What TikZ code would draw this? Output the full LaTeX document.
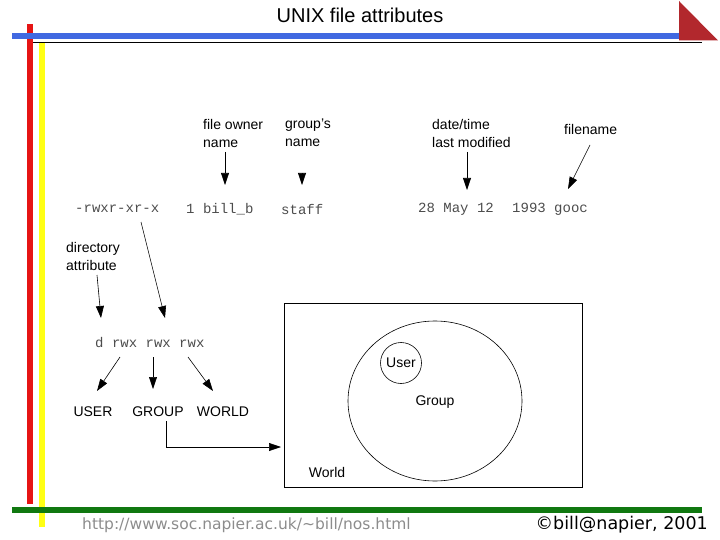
\documentclass[tikz,border=0pt]{standalone}
\usepackage{fontspec}
\setmainfont{Liberation Sans}
\newfontfamily\monof{Liberation Mono}
\newfontfamily\dvs{DejaVu Sans}
\usetikzlibrary{arrows.meta,shapes.geometric}
\definecolor{barred}{RGB}{230,20,20}
\definecolor{baryellow}{RGB}{255,255,20}
\definecolor{barblue}{RGB}{65,105,225}
\definecolor{bargreen}{RGB}{16,120,16}
\definecolor{tri}{RGB}{178,40,45}
\tikzset{
  lbl/.style={inner sep=0pt, font=\fontsize{14}{18}\selectfont, align=left, anchor=west},
  mono/.style={inner sep=0pt, font=\monof\fontsize{14}{16}\selectfont, text=black!70, anchor=west},
  arr/.style={-{Triangle[length=12pt,width=8pt]}, line width=0.6pt},
  plain/.style={line width=0.6pt},
}
\begin{document}
\begin{tikzpicture}[x=1pt,y=-1pt]
\useasboundingbox (0,0) rectangle (720,540);
% decorative bars
\fill[barred] (27,24) rectangle (33,504);
\fill[baryellow] (39,43) rectangle (45,527);
\fill[barblue] (12,32.7) rectangle (702,38.7);
\draw[line width=0.8pt] (33,42.3) -- (702,42.3);
\fill[bargreen] (12,506.7) rectangle (702,512.7);
\fill[tri] (679,1) -- (718,40.5) -- (679,40.5) -- cycle;
% title
\node[inner sep=0pt, font=\fontsize{20}{22}\selectfont] (title) at (360,15) {UNIX file attributes};
% top labels
\node[lbl] (owner) at (203,133) {file owner\\name};
\node[lbl] (grp) at (285,133) {group's\\name};
\node[lbl] (date) at (432,133) {date/time\\last modified};
\node[lbl] (fname) at (564,129) {filename};
% ls line
\node[mono] (perm) at (75,209) {-rwxr-xr-x};
\node[mono] (links) at (186,209) {1 bill\_b};
\node[mono] (staff) at (281,209) {staff};
\node[mono] (dt) at (418,209) {28 May 12};
\node[mono] (yr) at (512,209) {1993 gooc};
% arrows to ls line
\coordinate (o1) at (225,152); \coordinate (o2) at (225,185);
\draw[arr] (o1) -- (o2);
\coordinate (g1) at (302,174); \coordinate (g2) at (302,185);
\draw[arr] (g1) -- (g2);
\coordinate (d1) at (467,152); \coordinate (d2) at (467,190);
\draw[arr] (d1) -- (d2);
\coordinate (f1) at (590,145); \coordinate (f2) at (568,189);
\draw[arr] (f1) -- (f2);
% directory attribute
\node[lbl] (dir) at (66,256) {directory\\attribute};
\coordinate (da1) at (97,275); \coordinate (da2) at (101,318);
\draw[arr] (da1) -- (da2);
\coordinate (p1) at (141,222); \coordinate (p2) at (165,318);
\draw[arr] (p1) -- (p2);
% d rwx rwx rwx
\node[mono] (bits) at (95,343) {d rwx rwx rwx};
\node[lbl, anchor=center] (user) at (93,412) {USER};
\node[lbl, anchor=center] (group) at (158,412) {GROUP};
\node[lbl, anchor=center] (world) at (223,412) {WORLD};
\coordinate (u1) at (120,357); \coordinate (g3) at (153,357); \coordinate (w1) at (188,357);
\draw[arr] (u1) -- (97,391);
\draw[arr] (g3) -- (153,389);
\draw[arr] (w1) -- (213,391);
\coordinate (gend) at (281,447);
\draw[arr] ([xshift=8pt]group.south) ++(0,4) |- (gend);
% venn box
\node[draw, plain, minimum width=298pt, minimum height=184pt, inner sep=0pt] (box) at (433,395) {};
\node[draw, plain, ellipse, minimum width=174pt, minimum height=160pt, inner sep=0pt] (gcirc) at (435,401) {};
\node[inner sep=0pt, font=\fontsize{14}{16}\selectfont] (gtext) at (435,402) {Group};
\node[draw, plain, circle, minimum size=41pt, inner sep=0pt, font=\fontsize{14}{16}\selectfont] (ucirc) at (401,363) {User};
\node[inner sep=0pt, font=\fontsize{14}{16}\selectfont] (wtext) at (327,472) {World};
% footer
\node[inner sep=0pt, anchor=west, font=\dvs\fontsize{15.5}{18}\selectfont, text=black!45] (url) at (82,525) {http://www.soc.napier.ac.uk/\textasciitilde bill/nos.html};
\node[inner sep=0pt, anchor=east, font=\dvs\fontsize{17.5}{20}\selectfont] (copy) at (708,525) {©bill@napier, 2001};
\end{tikzpicture}
\end{document}
